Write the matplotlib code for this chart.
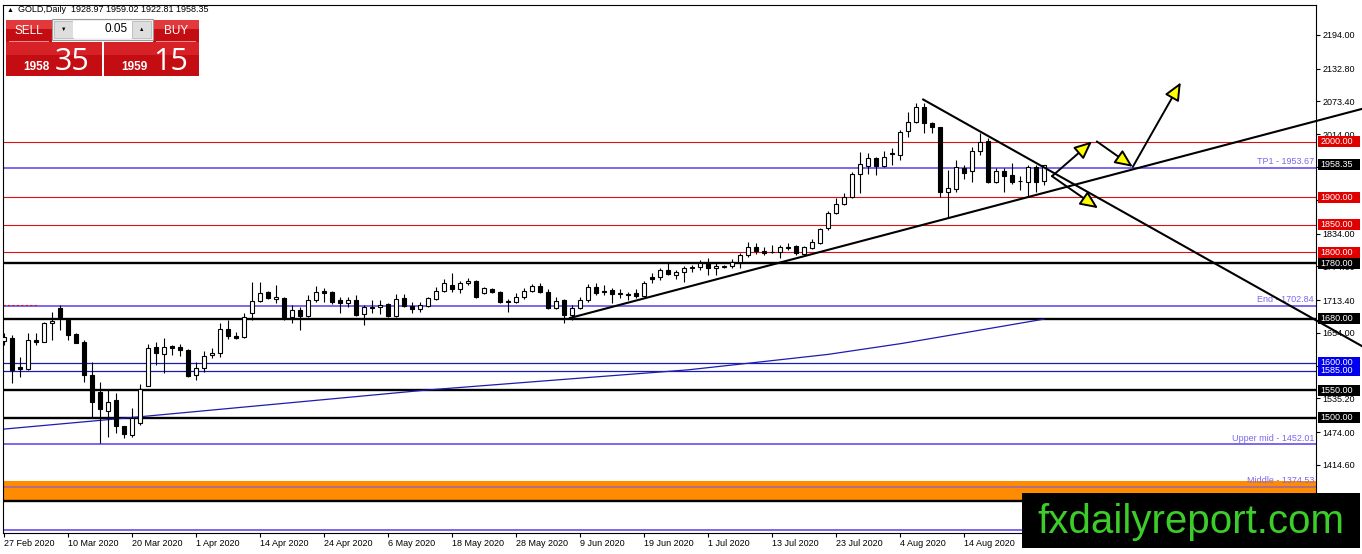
import numpy as np
import matplotlib
matplotlib.use('Agg')
import matplotlib.pyplot as plt
import matplotlib.transforms as mtransforms
from matplotlib.patches import Rectangle

# ---- data (GOLD daily, 27 Feb 2020 onwards) ----
opens = [1639, 1645, 1592, 1589, 1641, 1638, 1672, 1699, 1677, 1652,
         1637, 1578, 1547, 1512, 1532, 1485, 1469, 1491, 1558, 1628,
         1616, 1630, 1628, 1623, 1578, 1590, 1614, 1617, 1661, 1648,
         1647, 1690, 1712, 1728, 1715, 1717, 1683, 1695, 1685, 1713,
         1730, 1728, 1714, 1708, 1714, 1688, 1699, 1701, 1706, 1685,
         1717, 1703, 1697, 1703, 1715, 1730, 1741, 1734, 1744, 1748,
         1726, 1734, 1728, 1710, 1710, 1719, 1730, 1739, 1728, 1699,
         1714, 1686, 1699, 1714, 1737, 1730, 1732, 1725, 1725, 1726,
         1721, 1755, 1755, 1768, 1759, 1764, 1772, 1774, 1781, 1772,
         1774, 1775, 1783, 1795, 1810, 1802, 1801, 1801, 1810, 1812,
         1797, 1808, 1817, 1844, 1871, 1888, 1900, 1942, 1957, 1971,
         1957, 1978, 1976, 2020, 2036, 2063, 2035, 2027, 1909, 1915,
         1953, 1947, 1984, 2002, 1928, 1947, 1940, 1929, 1928, 1955,
         1928.97]
highs = [1654, 1650, 1610, 1654, 1654, 1674, 1692, 1705, 1679, 1654,
         1641, 1601, 1565, 1551, 1545, 1486, 1518, 1561, 1634, 1638,
         1645, 1632, 1634, 1625, 1601, 1621, 1627, 1672, 1677, 1656,
         1690, 1746, 1746, 1730, 1741, 1719, 1705, 1701, 1723, 1739,
         1735, 1730, 1719, 1719, 1723, 1705, 1714, 1714, 1708, 1725,
         1725, 1710, 1710, 1719, 1737, 1752, 1763, 1748, 1754, 1750,
         1737, 1735, 1730, 1715, 1726, 1735, 1743, 1744, 1734, 1719,
         1715, 1705, 1719, 1743, 1744, 1741, 1735, 1734, 1728, 1734,
         1748, 1763, 1772, 1781, 1768, 1775, 1777, 1786, 1790, 1781,
         1777, 1788, 1799, 1819, 1817, 1810, 1813, 1813, 1817, 1813,
         1812, 1824, 1844, 1875, 1899, 1908, 1946, 1982, 1980, 1973,
         1984, 1989, 2022, 2054, 2071, 2071, 2036, 2028, 1949, 1967,
         1958, 1991, 2016, 2007, 1953, 1953, 1962, 1938, 1958, 1958,
         1959.02]
lows = [1632, 1563, 1574, 1586, 1632, 1637, 1641, 1659, 1641, 1635,
        1565, 1502, 1454, 1465, 1473, 1464, 1465, 1487, 1557, 1596,
        1581, 1614, 1612, 1574, 1569, 1583, 1608, 1610, 1643, 1643,
        1645, 1677, 1710, 1715, 1708, 1677, 1672, 1659, 1683, 1710,
        1710, 1706, 1690, 1701, 1685, 1668, 1690, 1688, 1683, 1683,
        1701, 1690, 1692, 1701, 1714, 1728, 1728, 1726, 1741, 1717,
        1725, 1726, 1708, 1692, 1708, 1715, 1728, 1726, 1697, 1697,
        1672, 1677, 1697, 1710, 1723, 1723, 1708, 1717, 1714, 1717,
        1719, 1744, 1750, 1759, 1752, 1746, 1764, 1768, 1759, 1759,
        1772, 1772, 1772, 1792, 1797, 1795, 1799, 1790, 1804, 1795,
        1795, 1806, 1815, 1840, 1870, 1886, 1899, 1908, 1942, 1940,
        1955, 1958, 1967, 2009, 2035, 2016, 2016, 1900, 1864, 1909,
        1933, 1928, 1976, 1926, 1926, 1909, 1924, 1913, 1902, 1909,
        1922.81]
closes = [1647, 1587, 1589, 1641, 1638, 1672, 1676, 1683, 1650, 1636,
          1578, 1529, 1516, 1529, 1485, 1471, 1500, 1552, 1627, 1618,
          1628, 1627, 1623, 1576, 1590, 1612, 1618, 1661, 1648, 1645,
          1683, 1712, 1726, 1717, 1719, 1683, 1696, 1685, 1714, 1728,
          1726, 1710, 1708, 1714, 1686, 1701, 1701, 1705, 1685, 1715,
          1703, 1697, 1705, 1717, 1730, 1744, 1734, 1744, 1748, 1719,
          1735, 1728, 1710, 1712, 1719, 1730, 1739, 1728, 1699, 1712,
          1686, 1699, 1714, 1737, 1726, 1728, 1725, 1726, 1723, 1721,
          1744, 1752, 1768, 1761, 1764, 1772, 1774, 1781, 1772, 1775,
          1775, 1783, 1795, 1810, 1802, 1799, 1800, 1810, 1808, 1799,
          1810, 1819, 1842, 1871, 1888, 1900, 1942, 1960, 1971, 1957,
          1973, 1980, 2018, 2036, 2063, 2035, 2027, 1909, 1917, 1955,
          1944, 1984, 2000, 1928, 1947, 1938, 1928, 1930, 1955, 1928,
          1958.35]

date_labels = ['27 Feb 2020', '10 Mar 2020', '20 Mar 2020', '1 Apr 2020',
               '14 Apr 2020', '24 Apr 2020', '6 May 2020', '18 May 2020',
               '28 May 2020', '9 Jun 2020', '19 Jun 2020', '1 Jul 2020',
               '13 Jul 2020', '23 Jul 2020', '4 Aug 2020', '14 Aug 2020']
date_every = 8

price_ticks = [2194.00, 2132.80, 2073.40, 2014.00, 1954.60, 1895.20, 1834.00,
               1774.60, 1713.40, 1654.00, 1594.60, 1535.20, 1474.00, 1414.60,
               1355.20]
# these scale labels sit fully under a price tag in the reference
hidden_ticks = [1954.60, 1594.60, 1355.20]

# moving average, read at points along the line
ma_bar = [-0.5, 17, 37, 52.5, 72, 85.5, 94.3, 103, 112.3, 121.6, 130]
ma_val = [1479, 1502, 1529, 1550, 1572, 1587, 1601, 1615, 1635, 1658, 1679]

red_levels = [2000, 1900, 1850, 1800]
black_levels = [1780, 1680, 1550, 1500, 1350]
blue_levels = [1600, 1585]
fib_levels = [1953.67, 1702.84, 1452.01, 1297.05]
fib_names = ['TP1', 'End', 'Upper mid', None]
middle_level = 1374.53
orange_zone = (1350, 1386)

# price tags on the right scale
tag_prices = [2000, 1958.35, 1900, 1850, 1800, 1780, 1680, 1600, 1585, 1550, 1500]
tag_colors = ['red', 'black', 'red', 'red', 'red', 'black', 'black',
              'blue', 'blue', 'black', 'black']

# drawn objects (bar index, price)
up_trend = [(70.75, 1681), (169.75, 2060)]
down_trend = [(114.9, 2077), (169.75, 1630)]
arrows = [((131.0, 1938), (136.0, 2001)),
          ((131.0, 1938), (136.75, 1880)),
          ((136.6, 2001), (141.1, 1955)),
          ((141.1, 1955), (147.1, 2108))]

# ---- figure ----
W, H = 1362, 554
fig = plt.figure(figsize=(W / 100, H / 100), dpi=100)
fig.patch.set_facecolor('white')
small = ['Liberation Sans', 'DejaVu Sans']


def fx(px):
    return px / W


def fy(py):
    return 1 - py / H


ax = fig.add_axes([fx(3), fy(533), fx(1316) - fx(3), fy(5) - fy(533)])
ax.set_autoscale_on(False)
ax.set_xlim(-0.125, 164)
ax.set_ylim(1291.3, 2248.3)

o = np.array(opens, dtype=float)
h = np.array(highs, dtype=float)
l = np.array(lows, dtype=float)
c = np.array(closes, dtype=float)
idx = np.arange(len(o))
up = c >= o

# levels
ax.axhspan(*orange_zone, color='#ff8c00', lw=0, zorder=1)
for lv in red_levels:
    ax.axhline(lv, color='#dd1111', lw=0.8, zorder=2)
for lv in blue_levels:
    ax.axhline(lv, color='#1a1ab4', lw=0.9, zorder=2)
for lv in fib_levels:
    ax.axhline(lv, color='#7b68ee', lw=1.4, zorder=2)
ax.axhline(middle_level, color='#b46e82', lw=1.4, zorder=2)
for lv in black_levels:
    ax.axhline(lv, color='black', lw=1.7, zorder=2.2)
ax.plot([-0.1, 4.1], [1705, 1705], color='#dd1111', lw=0.8, ls=(0, (2, 2)), zorder=2)

# moving average
ax.plot(ma_bar, ma_val, color='#1c1cb0', lw=0.9, zorder=2.5)

# candles
ax.vlines(idx, l, h, color='black', lw=0.8, zorder=3)
ax.bar(idx[up], (c - o)[up], bottom=o[up], width=0.62, color='white',
       edgecolor='black', lw=0.8, zorder=4)
ax.bar(idx[~up], (o - c)[~up], bottom=c[~up], width=0.62, color='black',
       edgecolor='black', lw=0.8, zorder=4)

# level captions
trans = mtransforms.blended_transform_factory(ax.transAxes, ax.transData)
for lv, name in zip(fib_levels, fib_names):
    if name:
        ax.text(0.9985, lv + 3, f'{name} - {lv:.2f}', transform=trans, ha='right',
                va='bottom', fontsize=6.5, color='#7b68ee', family=small, zorder=5)
ax.text(0.9985, middle_level + 3, f'Middle - {middle_level:.2f}', transform=trans,
        ha='right', va='bottom', fontsize=6.5, color='#7b68ee', family=small, zorder=5)

# trend lines and arrows
for line in (up_trend, down_trend):
    xs, ys = zip(*line)
    ax.plot(xs, ys, color='black', lw=1.5, clip_on=False, zorder=6)
for start, end in arrows:
    ax.annotate('', xy=end, xytext=start, annotation_clip=False, zorder=7,
                arrowprops=dict(arrowstyle='-|>,head_length=0.45,head_width=0.2',
                                fc='yellow', ec='black', lw=1.4, mutation_scale=24,
                                shrinkA=0, shrinkB=0))

# axes look
for s in ax.spines.values():
    s.set_color('black')
    s.set_linewidth(0.8)
ax.yaxis.tick_right()
ax.set_yticks(price_ticks)
ax.set_yticklabels(['' if v in hidden_ticks else f'{v:.2f}' for v in price_ticks],
                   family=small)
ax.tick_params(axis='y', direction='out', length=3, width=0.8, pad=1.5, labelsize=6.5)
ax.set_xticks(np.arange(len(date_labels)) * date_every)
ax.set_xticklabels(date_labels, family=small, ha='left')
ax.tick_params(axis='x', direction='out', length=3, width=0.8, pad=1.5, labelsize=6.5)

# price tags
hh = 5.5 * (2248.3 - 1291.3) / 528
tag_fc = {'red': '#e00000', 'black': 'black', 'blue': '#0000ee'}
for price, col in zip(tag_prices, tag_colors):
    ax.add_patch(Rectangle((1.0015, price - hh), 42 / 1313, 2 * hh, transform=trans,
                           fc=tag_fc[col], ec='none', clip_on=False, zorder=8))
    ax.text(1.0035, price, f'{price:.2f}', transform=trans, ha='left', va='center',
            color='white', fontsize=6.5, family=small, clip_on=False, zorder=9)

# header
fig.text(fx(7), fy(10), '▲', fontsize=5, va='center', family=small)
fig.text(fx(18), fy(10), 'GOLD,Daily  1928.97 1959.02 1922.81 1958.35',
         fontsize=6.5, va='center', family=small)


def prect(x0, y0, x1, y1, **kw):
    fig.add_artist(Rectangle((fx(x0), fy(y1)), fx(x1) - fx(x0), fy(y0) - fy(y1),
                             transform=fig.transFigure, **kw))


# one-click trading panel
red_dark, red_light = '#c40d13', '#e2393d'
for x0, x1 in ((6, 52), (153, 199)):
    prect(x0, 20, x1, 42, fc=red_dark, ec='none', zorder=20)
    prect(x0, 20, x1, 29, fc=red_light, ec='none', zorder=20)
    prect(x0 + 3, 40.5, x1 - 3, 41.5, fc='#f08a8a', ec='none', zorder=21)
for x0, x1 in ((6, 102), (104, 199)):
    prect(x0, 42, x1, 76, fc=red_dark, ec='none', zorder=20)
    prect(x0, 42, x1, 55, fc='#d62126', ec='none', zorder=20)
prect(52, 19, 153, 40, fc='#f2f2f2', ec='#9a9a9a', lw=0.8, zorder=20)
prect(54, 21, 73, 38, fc='#dedede', ec='#b0b0b0', lw=0.5, zorder=21)
prect(73, 21, 132, 38, fc='white', ec='none', zorder=21)
prect(132, 21, 151, 38, fc='#dedede', ec='#b0b0b0', lw=0.5, zorder=21)
fig.text(fx(63.5), fy(29.5), '▼', fontsize=4, ha='center', va='center', family=small, zorder=22)
fig.text(fx(141.5), fy(29.5), '▲', fontsize=4, ha='center', va='center', family=small, zorder=22)
fig.text(fx(128), fy(29.5), '0.05', fontsize=8.5, ha='right', va='center', family=small, zorder=22)
fig.text(fx(29), fy(31), 'SELL', fontsize=8.5, ha='center', va='center', color='white',
         family=small, zorder=22)
fig.text(fx(176), fy(31), 'BUY', fontsize=8.5, ha='center', va='center', color='white',
         family=small, zorder=22)
for x_small, x_big, s_small, s_big in ((23, 55, '1958', '35'), (121, 153, '1959', '15')):
    fig.text(fx(x_small), fy(70), s_small, fontsize=8.5, fontweight='bold', color='white',
             va='baseline', family=small, zorder=22)
    fig.text(fx(x_big), fy(70), s_big, fontsize=22, color='white', va='baseline',
             family=['Open Sans', 'DejaVu Sans'], zorder=22)

# watermark box
prect(1022, 493, 1360, 548, fc='black', ec='none', zorder=20)
fig.text(fx(1191), fy(533), 'fxdailyreport.com', fontsize=29, color='#3ccd2a',
         ha='center', va='baseline', family=small, zorder=22)

fig.savefig('out.png', dpi=100)
